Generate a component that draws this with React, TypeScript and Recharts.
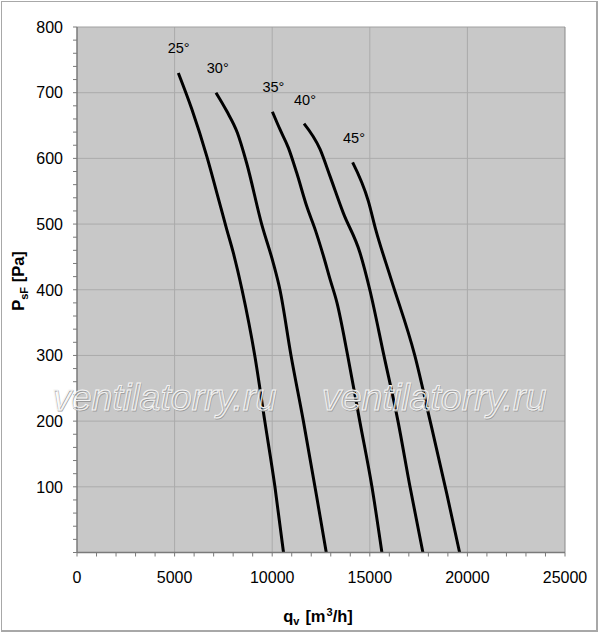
import React from 'react';
import {
  ComposedChart,
  Line,
  XAxis,
  YAxis,
  CartesianGrid,
  ReferenceLine,
  ReferenceDot,
} from 'recharts';

// ---- data (q in m3/h, p in Pa) ----
const curve25 = [
  { q: 5190, p: 730 },
  { q: 5880, p: 675 },
  { q: 6650, p: 603 },
  { q: 7160, p: 548 },
  { q: 7670, p: 492 },
  { q: 8010, p: 456 },
  { q: 8454, p: 400 },
  { q: 9106, p: 300 },
  { q: 9621, p: 200 },
  { q: 10140, p: 100 },
  { q: 10580, p: 0 },
];
const curve30 = [
  { q: 7120, p: 700 },
  { q: 7670, p: 672 },
  { q: 8215, p: 639 },
  { q: 8690, p: 593 },
  { q: 9460, p: 500 },
  { q: 10052, p: 441 },
  { q: 10397, p: 400 },
  { q: 10964, p: 300 },
  { q: 11598, p: 200 },
  { q: 12280, p: 85 },
  { q: 12770, p: 0 },
];
const curve35 = [
  { q: 10010, p: 671 },
  { q: 10400, p: 644 },
  { q: 10830, p: 616 },
  { q: 11255, p: 578 },
  { q: 11770, p: 527 },
  { q: 12220, p: 490 },
  { q: 12629, p: 451 },
  { q: 12974, p: 415 },
  { q: 13320, p: 380 },
  { q: 13866, p: 300 },
  { q: 14485, p: 200 },
  { q: 15110, p: 100 },
  { q: 15620, p: 0 },
];
const curve40 = [
  { q: 11630, p: 653 },
  { q: 12450, p: 614 },
  { q: 12960, p: 573 },
  { q: 13640, p: 517 },
  { q: 14500, p: 456 },
  { q: 15000, p: 400 },
  { q: 15722, p: 300 },
  { q: 16443, p: 200 },
  { q: 17060, p: 100 },
  { q: 17720, p: 0 },
];
const curve45 = [
  { q: 14120, p: 594 },
  { q: 14925, p: 535 },
  { q: 15300, p: 492 },
  { q: 16103, p: 415 },
  { q: 17304, p: 300 },
  { q: 18093, p: 200 },
  { q: 18940, p: 90 },
  { q: 19600, p: 0 },
];
const curves = [curve25, curve30, curve35, curve40, curve45];

const angleLabels = [
  { q: 5210, p: 769, text: '25°' },
  { q: 7210, p: 738, text: '30°' },
  { q: 10060, p: 709, text: '35°' },
  { q: 11680, p: 689, text: '40°' },
  { q: 14190, p: 631, text: '45°' },
];

// ---- tick labels ----
const xMajorTicks = [0, 5000, 10000, 15000, 20000, 25000];
const yMajorTicks = [0, 100, 200, 300, 400, 500, 600, 700, 800];
const xMinorStep = 1000;
const yMinorStep = 20;
const xGridValues = [5000, 10000, 15000, 20000];
const yGridValues = [100, 200, 300, 400, 500, 600, 700];

const xAllTicks: number[] = [];
for (let v = 0; v <= 25000; v += xMinorStep) xAllTicks.push(v);
const yAllTicks: number[] = [];
for (let v = 0; v <= 800; v += yMinorStep) yAllTicks.push(v);

const FONT = '"Liberation Sans", Arial, Helvetica, sans-serif';
const AXIS_COLOR = '#7a7a7a';

const YTick = (props: any) => {
  const { x, y, payload } = props;
  const v = payload.value;
  const major = yMajorTicks.includes(v);
  return (
    <g>
      <line x1={x - 4} x2={x} y1={y} y2={y} stroke={AXIS_COLOR} strokeWidth={1} />
      {major && v !== 0 && (
        <text x={x - 14} y={y + 5.8} textAnchor="end" fontSize={16} fontFamily={FONT} fill="#000">
          {v}
        </text>
      )}
    </g>
  );
};

const XTick = (props: any) => {
  const { x, y, payload } = props;
  const v = payload.value;
  const major = xMajorTicks.includes(v);
  return (
    <g>
      <line x1={x} x2={x} y1={y} y2={y + 4} stroke={AXIS_COLOR} strokeWidth={1} />
      {major && (
        <text x={x} y={y + 30.5} textAnchor="middle" fontSize={16} fontFamily={FONT} fill="#000">
          {v}
        </text>
      )}
    </g>
  );
};

const Watermark = ({ x, y }: { x: number; y: number }) => (
  <g fontFamily={FONT} fontStyle="italic" fontSize={37.5}>
    <text x={x + 0.8} y={y + 0.8} fill="none" stroke="#9a9a9a" strokeWidth={0.8}>
      ventilatorry.ru
    </text>
    <text x={x} y={y} fill="none" stroke="#f4f4f4" strokeWidth={1}>
      ventilatorry.ru
    </text>
  </g>
);

export default function App() {
  return (
    <div style={{ position: 'absolute', left: 0, top: 0, width: 600, height: 635, background: '#fff' }}>
      <div
        style={{
          position: 'absolute',
          left: 1,
          top: 1,
          width: 597,
          height: 631,
          boxSizing: 'border-box',
          borderTop: '1px solid #a8a8a8',
          borderLeft: '1px solid #a8a8a8',
          borderRight: '2px solid #a8a8a8',
          borderBottom: '2px solid #a8a8a8',
        }}
      />
      <div style={{ position: 'absolute', left: 0, top: 0 }}>
        <ComposedChart width={600} height={635} margin={{ top: 27, right: 35, left: 0, bottom: 0 }}>
          <CartesianGrid horizontal={false} vertical={false} fill="#c8c8c8" />
          {xGridValues.map((v) => (
            <ReferenceLine key={'gx' + v} x={v} stroke="#ababab" strokeWidth={1} />
          ))}
          {yGridValues.map((v) => (
            <ReferenceLine key={'gy' + v} y={v} stroke="#ababab" strokeWidth={1} />
          ))}
          <ReferenceLine y={800} stroke="#a0a0a0" strokeWidth={1} />
          <ReferenceLine x={25000} stroke="#8a8a8a" strokeWidth={1} />
          <XAxis
            dataKey="q"
            type="number"
            domain={[0, 25000]}
            ticks={xAllTicks}
            interval={0}
            tick={<XTick />}
            tickLine={false}
            tickSize={0}
            tickMargin={0}
            axisLine={{ stroke: AXIS_COLOR, strokeWidth: 1.5 }}
            height={82.5}
            allowDataOverflow
          />
          <YAxis
            dataKey="p"
            type="number"
            domain={[0, 800]}
            ticks={yAllTicks}
            interval={0}
            tick={<YTick />}
            tickLine={false}
            tickSize={0}
            tickMargin={0}
            axisLine={{ stroke: AXIS_COLOR, strokeWidth: 1.5 }}
            width={77}
            allowDataOverflow
          />
          {curves.map((c, i) => (
            <Line
              key={i}
              data={c}
              dataKey="p"
              type="monotone"
              stroke="#000"
              strokeWidth={3}
              dot={false}
              activeDot={false}
              isAnimationActive={false}
            />
          ))}
          {angleLabels.map((l) => (
            <ReferenceDot
              key={l.text}
              x={l.q}
              y={l.p}
              r={0}
              fill="none"
              stroke="none"
              label={{ value: l.text, position: 'center', fontSize: 14.5, fill: '#000', fontFamily: FONT }}
            />
          ))}
        </ComposedChart>
      </div>
      <svg
        width={600}
        height={635}
        style={{ position: 'absolute', left: 0, top: 0, pointerEvents: 'none' }}
      >
        <Watermark x={52} y={410} />
        <Watermark x={322} y={410} />
        <text
          transform="translate(24,281) rotate(-90)"
          textAnchor="middle"
          fontFamily={FONT}
          fontWeight="bold"
          fontSize={16.5}
          fill="#000"
        >
          P<tspan fontSize={11} dy={4}>sF</tspan>
          <tspan dy={-4}> [Pa]</tspan>
        </text>
        <text x={318} y={622} textAnchor="middle" fontFamily={FONT} fontWeight="bold" fontSize={16.5} fill="#000">
          q<tspan fontSize={11} dy={3}>v</tspan>
          <tspan dy={-3} dx={6}>[m</tspan>
          <tspan fontSize={11} dy={-6} dx={1}>3</tspan>
          <tspan dy={6}>/h]</tspan>
        </text>
      </svg>
    </div>
  );
}
